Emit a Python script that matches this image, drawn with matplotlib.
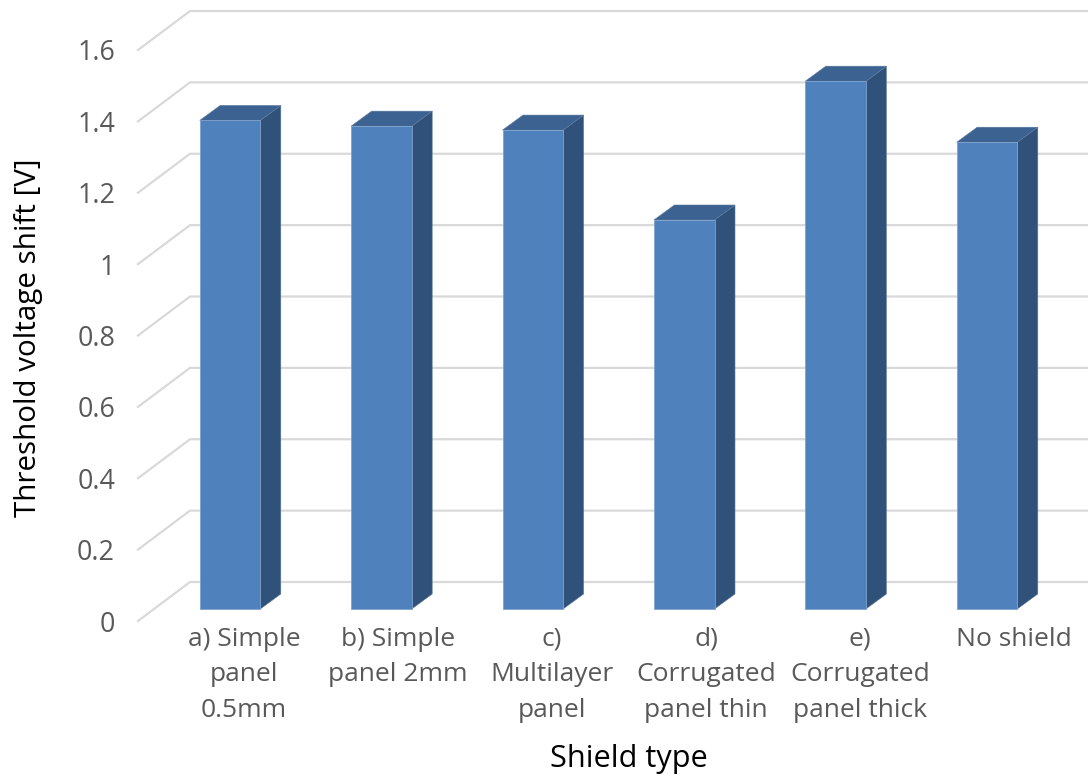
import numpy as np
import matplotlib
matplotlib.use('Agg')
import matplotlib.pyplot as plt
from matplotlib.patches import Polygon

categories = ['a) Simple\npanel\n0.5mm', 'b) Simple\npanel 2mm', 'c)\nMultilayer\npanel',
              'd)\nCorrugated\npanel thin', 'e)\nCorrugated\npanel thick', 'No shield']
shift = [1.369, 1.353, 1.342, 1.09, 1.479, 1.308]
y_ticks = [0, 0.2, 0.4, 0.6, 0.8, 1, 1.2, 1.4, 1.6]
y_labels = ['0', '0.2', '0.4', '0.6', '0.8', '1', '1.2', '1.4', '1.6']

plt.rcParams['font.family'] = ['Open Sans', 'DejaVu Sans']

W, H = 1088, 776
fig = plt.figure(figsize=(W / 100, H / 100), dpi=100)
# plot box is the front edge of the floor, in pixels
ax = fig.add_axes([138 / W, 1 - 621 / H, (W - 138) / W, 571 / H])

px_x = 151.4   # pixels per category
px_y = 571 / 1.6   # pixels per volt
ax.set_xlim((138 - 230) / px_x, (W - 230) / px_x)
ax.set_ylim(0, 1.6)

# depth of the fake 3d, wall and bars
wall_dx, wall_dy = 52 / px_x, 39 / px_y
bar_dx, bar_dy = 20.5 / px_x, 15 / px_y
floor = 12 / px_y
half = 30.3 / px_x

x0 = ax.get_xlim()[0]
x1 = ax.get_xlim()[1]
for t in y_ticks:
    ax.plot([x0, x0 + wall_dx, x1], [t, t + wall_dy, t + wall_dy], color='#d9d9d9', lw=1.6,
            clip_on=False, zorder=1, solid_joinstyle='miter')

x = np.arange(len(shift))
for i, v in zip(x, shift):
    top = v + floor
    ax.bar(i, v, width=2 * half, bottom=floor, color='#4f81bd', edgecolor='#7fa2cc', lw=0.6, zorder=3)
    ax.add_patch(Polygon([(i + half, floor), (i + half + bar_dx, floor + bar_dy),
                          (i + half + bar_dx, top + bar_dy), (i + half, top)],
                         fc='#30527a', ec='#5d7a9c', lw=0.4, zorder=2, clip_on=False))
    ax.add_patch(Polygon([(i - half, top), (i - half + bar_dx, top + bar_dy),
                          (i + half + bar_dx, top + bar_dy), (i + half, top)],
                         fc='#3c6291', ec='#5d7a9c', lw=0.4, zorder=2, clip_on=False))

for s in ax.spines.values():
    s.set_visible(False)
ax.patch.set_visible(False)

ax.set_yticks(y_ticks)
ax.set_yticklabels(y_labels, fontsize=19.4, color='#595959')
ax.tick_params(axis='y', length=0, pad=16.5)

# labels are spaced a bit wider than the bars
ax.set_xticks(14 / px_x + x * 154 / px_x)
ax.set_xticklabels(categories, fontsize=19, color='#595959', linespacing=1.57)
ax.tick_params(axis='x', length=0, pad=4)

fig.text(29 / W, 1 - 338 / H, 'Threshold voltage shift [V]', rotation=90, ha='center', va='center',
         fontsize=21.3, color='black')
fig.text(629 / W, 1 - 759 / H, 'Shield type', ha='center', va='center', fontsize=22.1, color='black')

fig.savefig('out.png', dpi=100)
